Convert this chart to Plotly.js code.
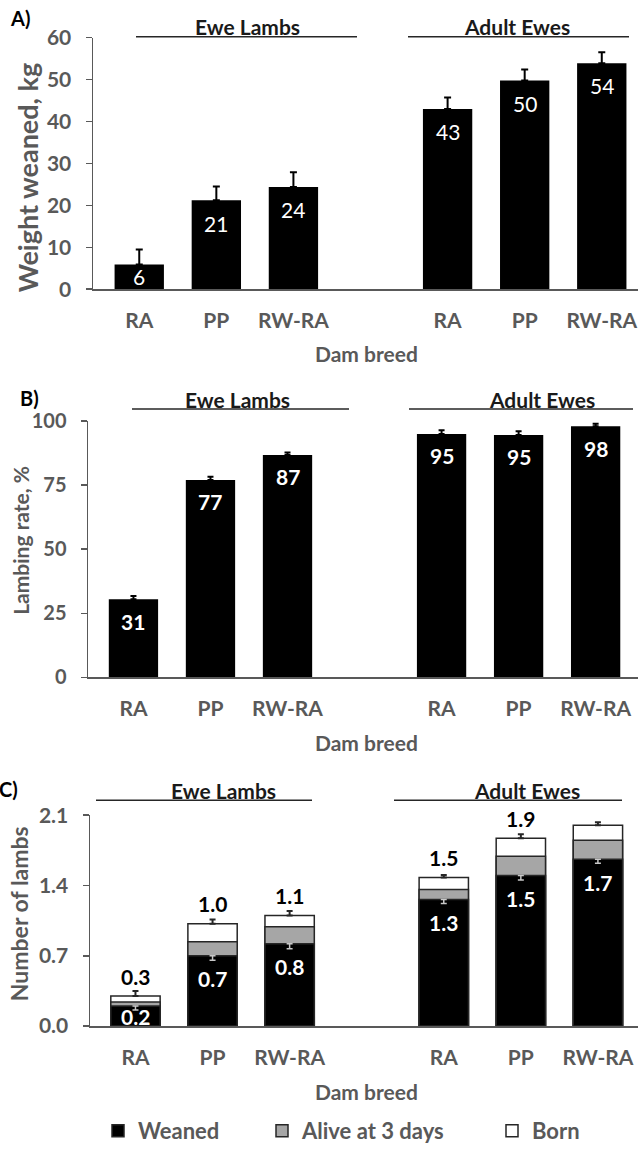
<!DOCTYPE html>
<html><head><meta charset="utf-8">
<script src="https://cdn.plot.ly/plotly-3.0.1.min.js"></script>
<style>html,body{margin:0;padding:0;background:#fff}#chart{width:638px;height:1152px}</style>
</head><body><div id="chart"></div>
<script>
// ---- data ----
const groups = ['Ewe Lambs', 'Adult Ewes'];
const breeds = ['RA', 'PP', 'RW-RA'];
const weightWeaned = [5.9, 21.2, 24.4, 43.0, 49.8, 53.9];
const weightErr = [3.6, 3.3, 3.5, 2.7, 2.6, 2.6];
const lambingRate = [30.5, 77.0, 86.7, 94.9, 94.5, 97.9];
const lambingErr = [1.3, 1.2, 1.0, 1.5, 1.5, 1.0];
const lambsBorn = [0.30, 1.02, 1.10, 1.48, 1.87, 2.00];
const bornErr = [0.05, 0.04, 0.045, 0.025, 0.04, 0.03];
const lambsAlive3d = [0.24, 0.84, 0.99, 1.36, 1.69, 1.85];
const lambsWeaned = [0.20, 0.70, 0.82, 1.26, 1.50, 1.66];
const weanedErr = [0.04, 0.045, 0.05, 0.04, 0.045, 0.04];
const seriesNames = ['Weaned', 'Alive at 3 days', 'Born'];
const panelLetters = ['A)', 'B)', 'C)'];
const yTitles = ['Weight weaned, kg', 'Lambing rate, %', 'Number of lambs'];
const xTitle = 'Dam breed';

// ---- layout helpers ----
const W = 638, H = 1152;
const FONT = 'Lato, "Open Sans", sans-serif';
const GREY = '#595959';
const px = v => v / W;
const py = v => 1 - v / H;

const xs = groups.flatMap((g, gi) => breeds.map((b, bi) => gi * (breeds.length + 1) + bi));
const tickText = groups.flatMap(() => breeds);
const zeros = xs.map(() => 0);

// panel geometry (pixels)
const P = [
  {axisX: 93, top: 38, bottom: 292, xr: [-0.6, 6.47], yr: [0, 60], dtick: 10, fmt: '', lblY: 27, lineY: 37,
   ew: [136, 357, 247], ae: [408, 629, 517], letter: [8, 18], ytitle: [27, 180, 27], tickY: 322, damY: 357},
  {axisX: 88, top: 425, bottom: 684, xr: [-0.59, 6.55], yr: [0, 100], dtick: 25, fmt: '', lblY: 403, lineY: 413,
   ew: [132, 349, 237], ae: [409, 633, 542], letter: [18, 402], ytitle: [21, 546, 21], tickY: 717, damY: 750},
  {axisX: 90, top: 823, bottom: 1036, xr: [-0.59, 6.52], yr: [0, 2.1], dtick: 0.7, fmt: '.1f', lblY: 798, lineY: 808,
   ew: [96, 312, 223], ae: [394, 622, 527], letter: [-3, 797], ytitle: [19, 923, 23], tickY: 1069, damY: 1102}
];

const legendFont = {family: FONT, size: 22, color: GREY, weight: 700};
const legendBox = x => ({orientation: 'h', x: px(x), xanchor: 'left', y: py(1142), yanchor: 'middle',
  font: legendFont, itemwidth: 30, bgcolor: 'rgba(0,0,0,0)'});

const layout = {
  width: W, height: H, margin: {l: 0, r: 0, t: 0, b: 0},
  paper_bgcolor: '#fff', plot_bgcolor: '#fff',
  barmode: 'overlay', showlegend: true,
  font: {family: FONT, color: GREY},
  annotations: [], shapes: [],
  legend: legendBox(98), legend2: legendBox(262), legend3: legendBox(492)
};

P.forEach((p, i) => {
  const sfx = i === 0 ? '' : String(i + 1);
  layout['xaxis' + sfx] = {
    domain: [px(p.axisX), 1], range: p.xr, anchor: 'y' + sfx,
    tickvals: xs, ticktext: tickText, ticks: '', showgrid: false, zeroline: false,
    showline: true, linecolor: GREY, linewidth: 1.5,
    tickfont: {family: FONT, size: 21, color: GREY, weight: 700}, ticklabelstandoff: 12, fixedrange: true
  };
  layout['yaxis' + sfx] = {
    domain: [py(p.bottom), py(p.top)], range: p.yr, anchor: 'x' + sfx,
    tick0: 0, dtick: p.dtick, tickformat: p.fmt, ticks: 'outside', ticklen: 6, tickwidth: 1.5, tickcolor: GREY,
    showgrid: false, zeroline: false, showline: true, linecolor: GREY, linewidth: 1.5,
    tickfont: {family: FONT, size: i === 1 ? 20 : 21, color: GREY, weight: 700}, ticklabelstandoff: 10, fixedrange: true
  };
  // group header lines + labels
  [[p.ew, groups[0]], [p.ae, groups[1]]].forEach(([g, name]) => {
    layout.shapes.push({type: 'line', xref: 'paper', yref: 'paper', x0: px(g[0]), x1: px(g[1]),
      y0: py(p.lineY), y1: py(p.lineY), line: {color: '#262626', width: 1.5}});
    layout.annotations.push({xref: 'paper', yref: 'paper', x: px(g[2]), y: py(p.lblY), xanchor: 'center', yanchor: 'middle',
      text: '<b>' + name + '</b>', showarrow: false, font: {family: FONT, size: 21, color: '#1a1a1a'}});
  });
  layout.annotations.push({xref: 'paper', yref: 'paper', x: px(p.letter[0]), y: py(p.letter[1]), xanchor: 'left', yanchor: 'middle',
    text: '<b>' + panelLetters[i] + '</b>', showarrow: false, font: {family: FONT, size: 20, color: '#000'}});
  layout.annotations.push({xref: 'paper', yref: 'paper', x: px(p.ytitle[0]), y: py(p.ytitle[1]), xanchor: 'center', yanchor: 'middle',
    textangle: -90, text: '<b>' + yTitles[i] + '</b>', showarrow: false, font: {family: FONT, size: p.ytitle[2], color: GREY}});
  layout.annotations.push({xref: 'paper', yref: 'paper', x: px(367), y: py(p.damY), xanchor: 'center', yanchor: 'middle',
    text: '<b>' + xTitle + '</b>', showarrow: false, font: {family: FONT, size: 21, color: GREY}});
});

const unit = P.map(p => (p.yr[1] - p.yr[0]) / (p.bottom - p.top)); // data units per pixel
const BW = 0.64;

const traces = [];
// A
traces.push({type: 'bar', x: xs, y: weightWeaned, xaxis: 'x', yaxis: 'y', width: BW, showlegend: false,
  marker: {color: '#000'}, hoverinfo: 'skip',
  error_y: {type: 'data', symmetric: false, array: weightErr, arrayminus: zeros, color: '#000', thickness: 2, width: 3.5}});
weightWeaned.forEach((v, k) => layout.annotations.push({xref: 'x', yref: 'y', x: xs[k],
  y: v - Math.min(23 * unit[0], v / 2), text: String(Math.round(v)), showarrow: false, yanchor: 'middle',
  font: {family: FONT, size: 21, color: '#fff'}}));
// B
traces.push({type: 'bar', x: xs, y: lambingRate, xaxis: 'x2', yaxis: 'y2', width: BW, showlegend: false,
  marker: {color: '#000'}, hoverinfo: 'skip',
  error_y: {type: 'data', symmetric: false, array: lambingErr, arrayminus: zeros, color: '#000', thickness: 2, width: 3}});
lambingRate.forEach((v, k) => layout.annotations.push({xref: 'x2', yref: 'y2', x: xs[k],
  y: v - Math.min(22 * unit[1], v / 2), text: '<b>' + Math.round(v) + '</b>', showarrow: false, yanchor: 'middle',
  font: {family: FONT, size: 21, color: '#fff'}}));
// C (overlaid)
const edge = {color: '#262626', width: 1.5};
traces.push({type: 'bar', name: seriesNames[2], legend: 'legend3', x: xs, y: lambsBorn, xaxis: 'x3', yaxis: 'y3', width: BW,
  marker: {color: '#fff', line: edge}, hoverinfo: 'skip',
  error_y: {type: 'data', symmetric: false, array: bornErr, arrayminus: zeros, color: '#262626', thickness: 2, width: 3}});
traces.push({type: 'bar', name: seriesNames[1], legend: 'legend2', x: xs, y: lambsAlive3d, xaxis: 'x3', yaxis: 'y3', width: BW,
  marker: {color: '#a6a6a6', line: edge}, hoverinfo: 'skip'});
traces.push({type: 'bar', name: seriesNames[0], legend: 'legend', x: xs, y: lambsWeaned, xaxis: 'x3', yaxis: 'y3', width: BW,
  marker: {color: '#000', line: edge}, hoverinfo: 'skip',
  error_y: {type: 'data', symmetric: false, array: zeros, arrayminus: weanedErr, color: '#c8c8c8', thickness: 1.5, width: 3}});
lambsWeaned.forEach((v, k) => layout.annotations.push({xref: 'x3', yref: 'y3', x: xs[k],
  y: v - Math.min(23 * unit[2], v / 2), text: '<b>' + v.toFixed(1) + '</b>', showarrow: false, yanchor: 'middle',
  font: {family: FONT, size: 21, color: '#fff'}}));
const cTop = P[2].yr[1] + 3 * unit[2];
lambsBorn.forEach((v, k) => layout.annotations.push({xref: 'x3', yref: 'y3', x: xs[k],
  y: Math.min(v + 20 * unit[2], cTop), text: '<b>' + v.toFixed(1) + '</b>', showarrow: false, yanchor: 'middle',
  font: {family: FONT, size: 21, color: '#000'}}));

Plotly.newPlot('chart', traces, layout, {staticPlot: true, displayModeBar: false});
</script>
</body></html>
